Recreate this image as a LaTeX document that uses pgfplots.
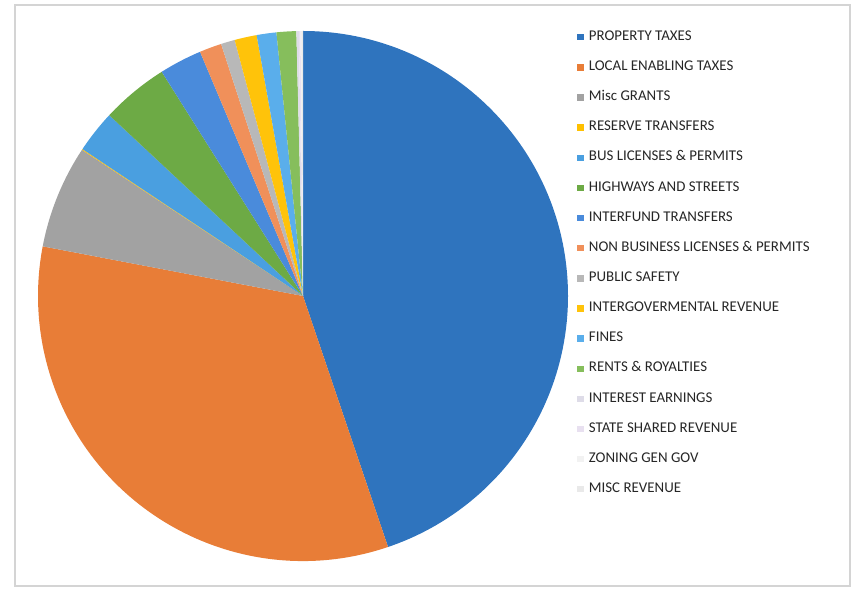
\documentclass[border=0pt]{standalone}
\usepackage{fontspec}
\setmainfont{Carlito}
\usepackage{pgfplots}
\usepackage{pgfplotstable}
\pgfplotsset{compat=1.18}

\definecolor{c0}{HTML}{2F74BE}
\definecolor{c1}{HTML}{E87D37}
\definecolor{c2}{HTML}{A2A2A2}
\definecolor{c3}{HTML}{FFC000}
\definecolor{c4}{HTML}{4A9FE0}
\definecolor{c5}{HTML}{6DAA45}
\definecolor{c6}{HTML}{4A8BDB}
\definecolor{c7}{HTML}{F0905A}
\definecolor{c8}{HTML}{B8B8B8}
\definecolor{c9}{HTML}{FFC30A}
\definecolor{c10}{HTML}{5AAEEB}
\definecolor{c11}{HTML}{86BE5C}
\definecolor{c12}{HTML}{DEDCE8}
\definecolor{c13}{HTML}{E8E0F0}
\definecolor{c14}{HTML}{F2F2F2}
\definecolor{c15}{HTML}{E9E9E9}
\definecolor{legtext}{HTML}{262626}
\definecolor{frame}{HTML}{D4D4D4}

% share of revenue, percent (clockwise from 12 o'clock)
\pgfplotstableread{
idx value
0  44.8
1  33.2
2  6.3
3  0.05
4  2.6
5  4.1
6  2.6
7  1.35
8  0.85
9  1.35
10 1.2
11 1.2
12 0.15
13 0.1
14 0.05
15 0.1
}\datatable

\begin{document}
\begin{tikzpicture}
\useasboundingbox (0,0) rectangle (851bp,590bp);
\draw[frame, line width=1.2bp] (15bp,4bp) rectangle (850bp,585bp);
% total
\def\total{0}
\pgfplotsforeachungrouped \i in {0,...,15}{%
  \pgfplotstablegetelem{\i}{value}\of\datatable
  \pgfmathsetmacro\total{\total+\pgfplotsretval}%
  \global\let\total\total
}
\begin{axis}[
  hide axis,
  scale only axis,
  width=530bp, height=530bp,
  xmin=-1, xmax=1, ymin=-1, ymax=1,
  at={(303bp,294bp)}, anchor=center,
  clip=false,
  legend image code/.code={\fill[#1] (0bp,-2.7bp) rectangle (5.5bp,2.7bp);},
  legend cell align=left,
  legend style={
    at={(axis cs:1.034,1.002)}, anchor=north west,
    draw=none, fill=none, inner sep=0pt, outer sep=0pt,
    font=\fontsize{14.9bp}{17bp}\selectfont,
    text=legtext,
    row sep=17.13bp, column sep=6bp,
    nodes={inner sep=0pt, text height=10bp, text depth=3bp},
  },
]
\def\cum{0}
\pgfplotsforeachungrouped \i in {0,...,15}{%
  \pgfplotstablegetelem{\i}{value}\of\datatable
  \pgfmathsetmacro\a{90-360*(\cum/\total)}%
  \pgfmathsetmacro\cumnew{\cum+\pgfplotsretval}%
  \pgfmathsetmacro\b{90-360*(\cumnew/\total)}%
  \edef\temp{\noexpand\fill[c\i] (axis cs:0,0) -- (axis cs:{cos(\a)},{sin(\a)}) arc[start angle=\a, end angle=\b, radius=265bp] -- cycle;}%
  \temp
  \global\let\cum\cumnew
}
\addlegendimage{c0}\addlegendentry{PROPERTY TAXES}
\addlegendimage{c1}\addlegendentry{LOCAL ENABLING TAXES}
\addlegendimage{c2}\addlegendentry{Misc GRANTS}
\addlegendimage{c3}\addlegendentry{RESERVE TRANSFERS}
\addlegendimage{c4}\addlegendentry{BUS LICENSES \& PERMITS}
\addlegendimage{c5}\addlegendentry{HIGHWAYS AND STREETS}
\addlegendimage{c6}\addlegendentry{INTERFUND TRANSFERS}
\addlegendimage{c7}\addlegendentry{NON BUSINESS LICENSES \& PERMITS}
\addlegendimage{c8}\addlegendentry{PUBLIC SAFETY}
\addlegendimage{c9}\addlegendentry{INTERGOVERMENTAL REVENUE}
\addlegendimage{c10}\addlegendentry{FINES}
\addlegendimage{c11}\addlegendentry{RENTS \& ROYALTIES}
\addlegendimage{c12}\addlegendentry{INTEREST EARNINGS}
\addlegendimage{c13}\addlegendentry{STATE SHARED REVENUE}
\addlegendimage{c14}\addlegendentry{ZONING GEN GOV}
\addlegendimage{c15}\addlegendentry{MISC REVENUE}
\end{axis}
\end{tikzpicture}
\end{document}
